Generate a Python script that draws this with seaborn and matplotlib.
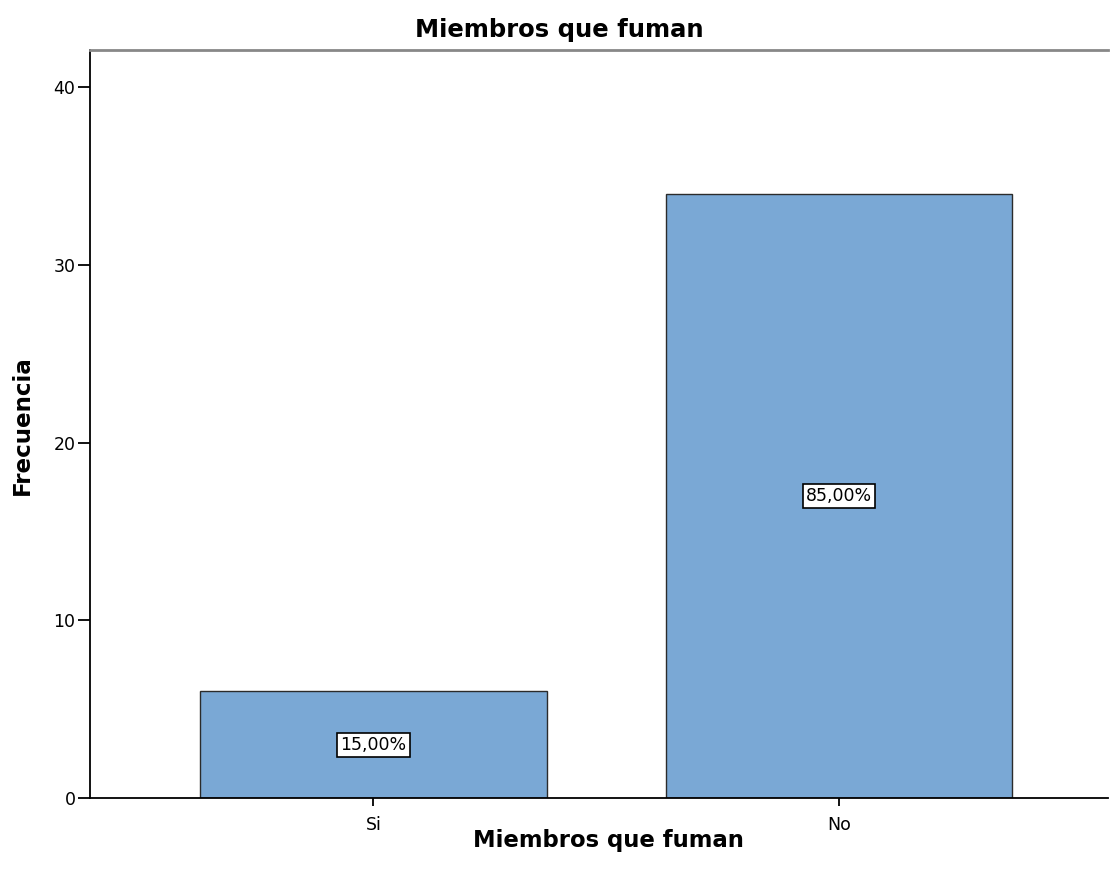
import matplotlib
matplotlib.use("Agg")
import matplotlib.pyplot as plt
import seaborn as sns
import pandas as pd

# Datos
categorias = ["Si", "No"]
frecuencias = [6, 34]
porcentajes = ["15,00%", "85,00%"]

df = pd.DataFrame({"categoria": categorias, "frecuencia": frecuencias})

sns.set_style("white")
plt.rcParams["font.family"] = ["DejaVu Sans"]
plt.rcParams["text.color"] = "black"

fig = plt.figure(figsize=(11.1, 8.84), dpi=100)
ax = fig.add_axes([0.0811, 0.0973, 0.917, 0.8461])

sns.barplot(data=df, x="categoria", y="frecuencia", color="#7aa8d5",
            saturation=1, width=0.745, edgecolor="#2b2b2b", linewidth=1.0, ax=ax)

# Etiquetas de porcentaje en el centro de cada barra
for i, (f, p) in enumerate(zip(frecuencias, porcentajes)):
    ax.text(i, f / 2, p, ha="center", va="center", fontsize=12.5, color="black",
            bbox=dict(boxstyle="square,pad=0.18", fc="white", ec="black", lw=1.2))

ax.set_xlim(-0.609, 1.578)
ax.set_ylim(0, 42.1)
ax.set_yticks([0, 10, 20, 30, 40])
ax.tick_params(axis="y", direction="out", length=9, width=1.3, labelsize=12.5,
               left=True, pad=1.5, colors="black")
ax.tick_params(axis="x", direction="out", length=6, width=1.3, labelsize=12.5,
               bottom=True, pad=7, colors="black")

for s in ["left", "bottom"]:
    ax.spines[s].set_color("black")
    ax.spines[s].set_linewidth(1.3)
ax.spines["top"].set_color("#888888")
ax.spines["top"].set_linewidth(2)
ax.spines["right"].set_visible(False)

ax.set_xlabel("")
ax.set_ylabel("")
fig.text(559.5 / 1110, 1 - 30 / 884, "Miembros que fuman", ha="center", va="center",
         fontsize=17.5, fontweight="bold")
fig.text(608 / 1110, 1 - 840 / 884, "Miembros que fuman", ha="center", va="center",
         fontsize=16.4, fontweight="bold")
fig.text(22 / 1110, 1 - 425 / 884, "Frecuencia", ha="center", va="center",
         rotation=90, fontsize=16.6, fontweight="bold")

fig.savefig("out.png", dpi=100)
